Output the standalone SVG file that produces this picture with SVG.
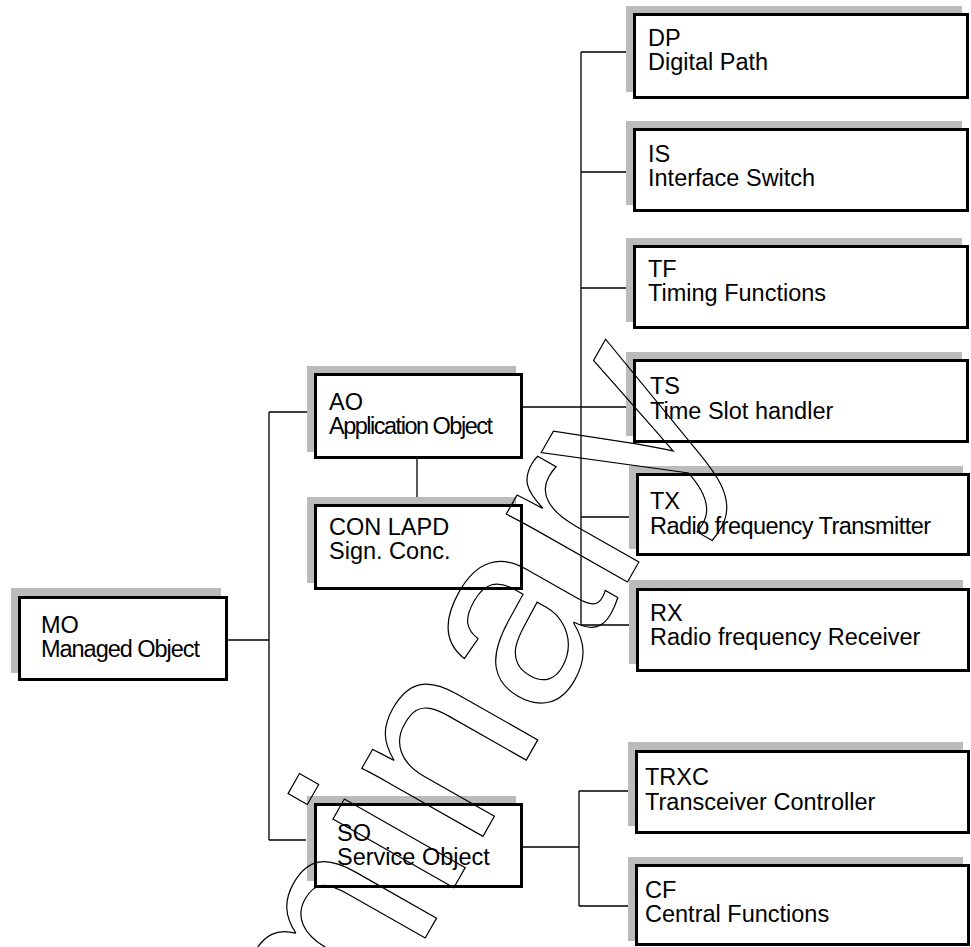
<svg xmlns="http://www.w3.org/2000/svg" width="971" height="947" viewBox="0 0 971 947">
<style>
.sh{fill:#bbbbbb;stroke:none}
.bx{fill:#ffffff;stroke:#000;stroke-width:3}
.t{font-family:"Liberation Sans",Arial,sans-serif;font-size:23.5px;fill:#000}
.c{fill:none;stroke:#000;stroke-width:1.3}
.wm{font-family:"Liberation Sans",Arial,sans-serif;font-size:263px;fill:none;stroke:#000;stroke-width:1.2}
</style>
<rect width="971" height="947" fill="#ffffff"/>
<g id="connectors">
<path class="c" d="M228,640H269M269,412V840M269,412H307M269,840H306"/>
<path class="c" d="M417,459V497"/>
<path class="c" d="M523,407H626"/>
<path class="c" d="M581,52V625M581,52H626M581,172H637M581,288H626M581,517H629M581,625H629"/>
<path class="c" d="M523,847H579M579,791V906M579,791H628M579,906H628"/>
</g>
<g id="MO"><rect class="sh" x="11" y="588" width="210" height="85"/><rect class="bx" x="19.5" y="597.5" width="207" height="82"/><text class="t" x="41" y="633">MO</text><text class="t" x="41" y="657" textLength="159" lengthAdjust="spacing">Managed Object</text></g>
<g id="AO"><rect class="sh" x="307" y="366" width="209" height="86"/><rect class="bx" x="315.5" y="374.5" width="206" height="83"/><text class="t" x="329" y="410">AO</text><text class="t" x="329" y="434" textLength="164" lengthAdjust="spacing">Application Object</text></g>
<g id="CONLAPD"><rect class="sh" x="307" y="497" width="209" height="86"/><rect class="bx" x="315.5" y="505.5" width="206" height="83"/><text class="t" x="329" y="535">CON LAPD</text><text class="t" x="329" y="559">Sign. Conc.</text></g>
<g id="SO"><rect class="sh" x="307" y="796" width="209" height="85"/><rect class="bx" x="315.5" y="804.5" width="206" height="82"/><text class="t" x="337" y="841">SO</text><text class="t" x="337" y="865">Service Object</text></g>
<g id="DP"><rect class="sh" x="626" y="6" width="336" height="86"/><rect class="bx" x="634.5" y="14.5" width="333" height="83"/><text class="t" x="648" y="46">DP</text><text class="t" x="648" y="70">Digital Path</text></g>
<g id="IS"><rect class="sh" x="626" y="121" width="336" height="84"/><rect class="bx" x="634.5" y="129.5" width="333" height="81"/><text class="t" x="648" y="162">IS</text><text class="t" x="648" y="186">Interface Switch</text></g>
<g id="TF"><rect class="sh" x="626" y="238" width="336" height="84"/><rect class="bx" x="634.5" y="246.5" width="333" height="81"/><text class="t" x="648" y="277">TF</text><text class="t" x="648" y="301">Timing Functions</text></g>
<g id="TS"><rect class="sh" x="626" y="352" width="336" height="84"/><rect class="bx" x="634.5" y="360.5" width="333" height="81"/><text class="t" x="650" y="394">TS</text><text class="t" x="650" y="419">Time Slot handler</text></g>
<g id="TX"><rect class="sh" x="629" y="466" width="334" height="83"/><rect class="bx" x="637.5" y="474.5" width="331" height="80"/><text class="t" x="650" y="509">TX</text><text class="t" x="650" y="534" textLength="281" lengthAdjust="spacing">Radio frequency Transmitter</text></g>
<g id="RX"><rect class="sh" x="629" y="580" width="334" height="84"/><rect class="bx" x="637.5" y="589.5" width="331" height="81"/><text class="t" x="650" y="621">RX</text><text class="t" x="650" y="645">Radio frequency Receiver</text></g>
<g id="TRXC"><rect class="sh" x="628" y="742" width="335" height="84"/><rect class="bx" x="636.5" y="751.5" width="332" height="81"/><text class="t" x="645" y="785">TRXC</text><text class="t" x="645" y="810">Transceiver Controller</text></g>
<g id="CF"><rect class="sh" x="628" y="857" width="335" height="84"/><rect class="bx" x="636.5" y="865.5" width="332" height="79"/><text class="t" x="645" y="898">CF</text><text class="t" x="645" y="922">Central Functions</text></g>
<text class="wm" transform="translate(77,1551) rotate(-60.4)">Preliminary</text>
</svg>
